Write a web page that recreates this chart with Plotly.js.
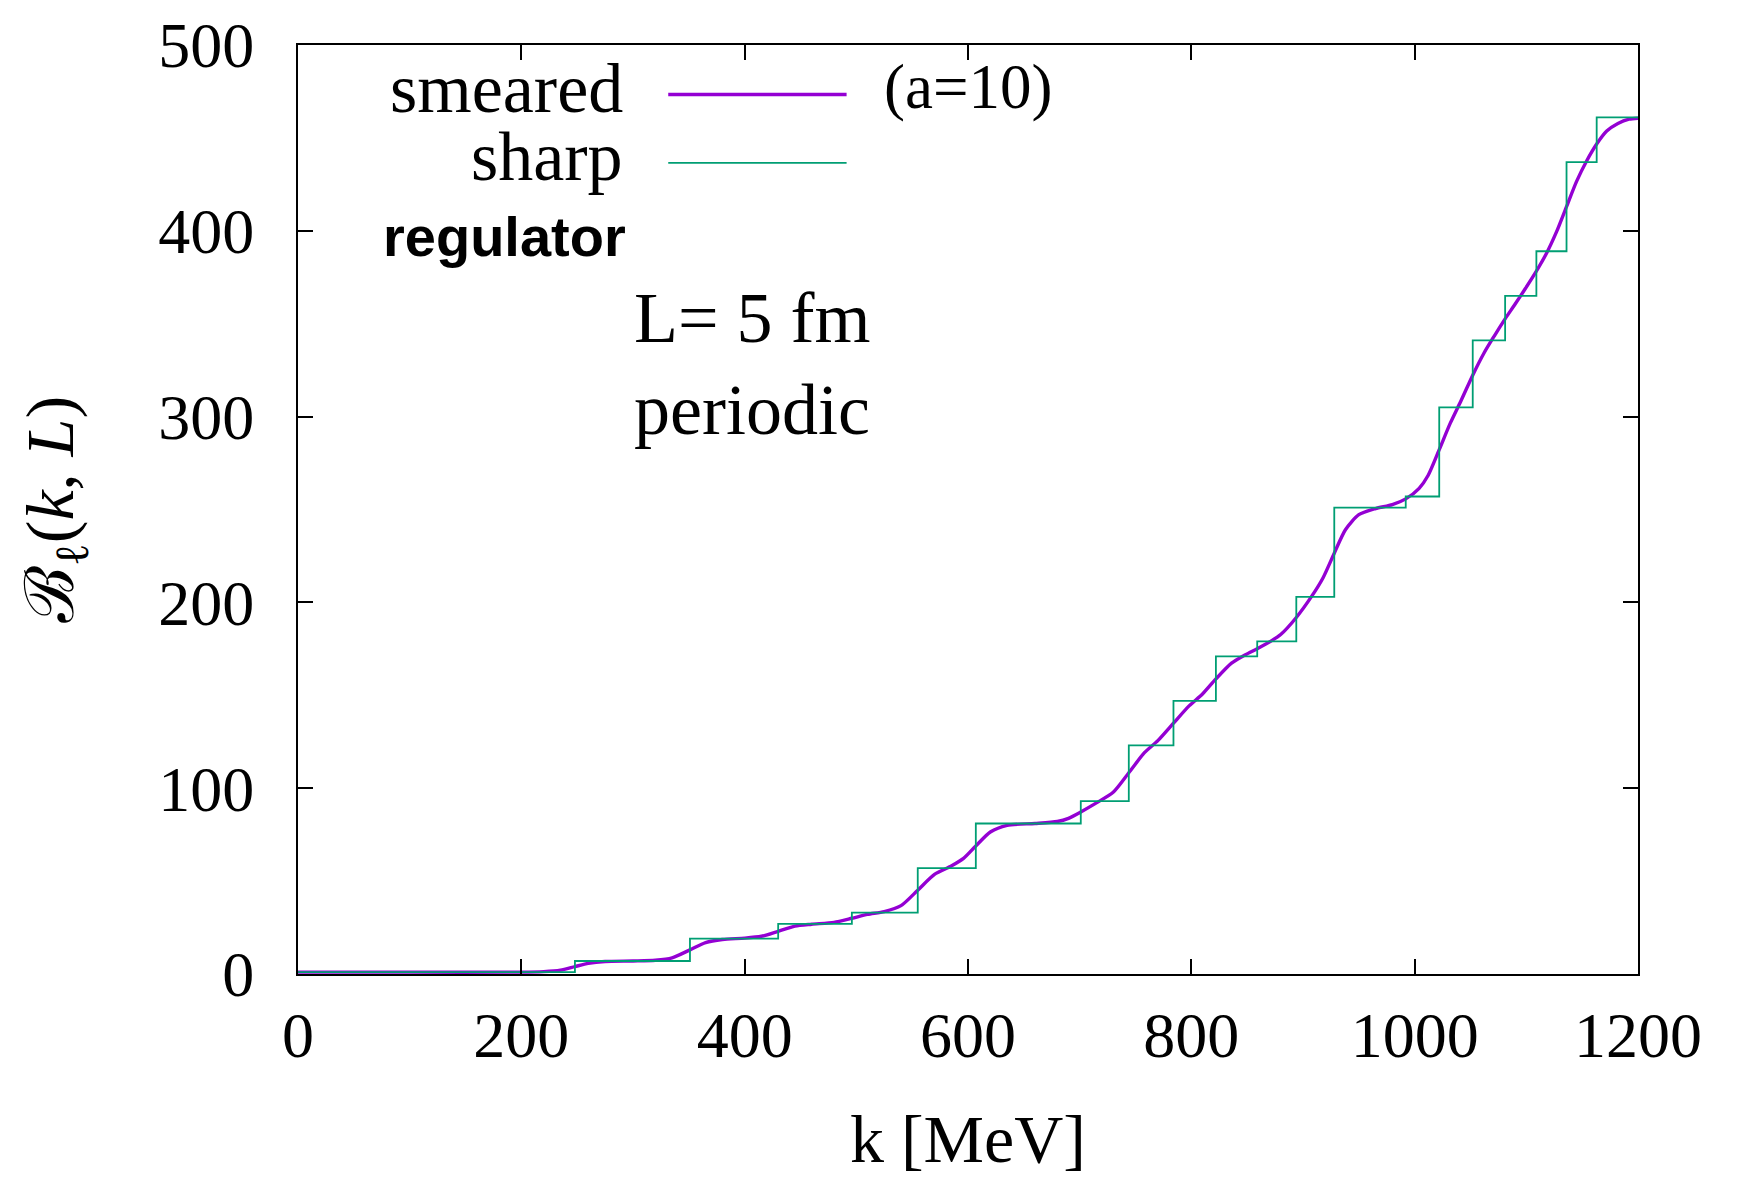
<!DOCTYPE html>
<html>
<head>
<meta charset="utf-8">
<script src="https://cdn.plot.ly/plotly-3.0.1.min.js"></script>
<style>html,body{margin:0;padding:0;background:#fff;}#chart{width:1741px;height:1177px;}</style>
</head>
<body>
<div id="chart"></div>
<script>
// Sharp regulator: step positions k [MeV] and level after each step
const sharpK = [0, 248, 351, 430, 496, 555, 607, 701, 744, 784, 822, 859, 894, 928, 992, 1022, 1052, 1081, 1109, 1136, 1163];
const sharpB = [1, 7, 19, 27, 33, 57, 81, 93, 123, 147, 171, 179, 203, 251, 257, 305, 341, 365, 389, 437, 461];
const sharpEndK = 1200;

// Smeared regulator (a=10): points
const smearK = [0, 100, 200, 220, 235, 248, 260, 275, 300, 320, 335, 351, 365, 380, 400, 415, 430, 445, 460, 480, 496, 510, 525, 540, 555, 570, 585, 596, 607, 620, 635, 660, 680, 690, 701, 715, 730, 744, 758, 770, 784, 798, 810, 822, 836, 848, 859, 872, 880, 894, 908, 918, 928, 938, 950, 965, 980, 992, 1004, 1012, 1022, 1032, 1042, 1052, 1062, 1071, 1081, 1090, 1099, 1109, 1118, 1127, 1136, 1145, 1154, 1163, 1172, 1182, 1192, 1200];
const smearB = [1, 1, 1, 1.3, 2.1, 4, 5.7, 6.7, 7.0, 7.4, 8.7, 13, 16.9, 18.6, 19.3, 20.3, 23, 25.8, 26.8, 27.8, 30.0, 32.1, 33.6, 36.8, 45.1, 53.6, 58.1, 62.2, 68.9, 76.4, 80.0, 81.0, 82.1, 83.8, 87.2, 92.1, 97.8, 108.3, 119.1, 125.6, 135.0, 144.3, 150.7, 158.8, 167.3, 171.7, 175.1, 179.4, 182.7, 191.9, 203.5, 213.3, 226.5, 239.1, 247.2, 250.5, 252.6, 255.7, 261.4, 268.3, 282.2, 296.6, 309.2, 322.3, 334.1, 343.1, 352.6, 360.6, 368.8, 378.3, 387.8, 399.4, 413, 426.6, 437.6, 446.7, 453.7, 457.8, 460.1, 460.6];

const xTicks = [0, 200, 400, 600, 800, 1000, 1200];
const yTicks = [0, 100, 200, 300, 400, 500];

const names = {smeared: 'smeared', sharp: 'sharp', note: '(a=10)', reg: 'regulator', box: 'L= 5 fm', bc: 'periodic'};

const purple = '#9400D3';
const green = '#009E73';
const serif = 'Liberation Serif, Times New Roman, serif';

const traces = [
  {x: smearK, y: smearB, type: 'scatter', mode: 'lines', name: names.smeared,
   line: {color: purple, width: 3.4, shape: 'spline', smoothing: 0.7}, showlegend: false, hoverinfo: 'skip'},
  {x: sharpK.concat([sharpEndK]), y: sharpB.concat([sharpB[sharpB.length - 1]]), type: 'scatter', mode: 'lines', name: names.sharp,
   line: {color: green, width: 1.8, shape: 'hv'}, showlegend: false, hoverinfo: 'skip'}
];

const axisCommon = {
  showline: true, linecolor: '#000', linewidth: 2, mirror: 'ticks',
  ticks: 'inside', ticklen: 15, tickwidth: 2, tickcolor: '#000',
  showgrid: false, zeroline: false,
  tickfont: {family: serif, size: 64, color: '#000'}
};

const layout = {
  width: 1741, height: 1177,
  margin: {l: 298, r: 103, t: 45, b: 203},
  paper_bgcolor: '#fff', plot_bgcolor: '#fff',
  showlegend: false,
  xaxis: Object.assign({}, axisCommon, {
    range: [0, 1200], tickvals: xTicks, ticktext: xTicks.map(String),
    ticklabelstandoff: 4,
    title: {text: 'k [MeV]', font: {family: serif, size: 68, color: '#000'}, standoff: 62}
  }),
  yaxis: Object.assign({}, axisCommon, {
    range: [0, 500], tickvals: yTicks, ticktext: yTicks.map(String),
    ticklabelstandoff: 29,
    title: {text: 'ℬ<sub>ℓ</sub>(<i>k</i>, <i>L</i>)', font: {family: serif, size: 68, color: '#000'}, standoff: 62}
  }),
  shapes: [
    {type: 'line', xref: 'paper', yref: 'paper', x0: 0.2763, x1: 0.4094, y0: 0.9467, y1: 0.9467, line: {color: purple, width: 3.4}},
    {type: 'line', xref: 'paper', yref: 'paper', x0: 0.2763, x1: 0.4094, y0: 0.8731, y1: 0.8731, line: {color: green, width: 1.8}}
  ],
  annotations: [
    {text: names.smeared, xref: 'paper', yref: 'paper', x: 0.2440, y: 0.9535, xanchor: 'right', yanchor: 'middle', showarrow: false, font: {family: serif, size: 70, color: '#000'}},
    {text: names.note, xref: 'paper', yref: 'paper', x: 0.436, y: 0.9551, xanchor: 'left', yanchor: 'middle', showarrow: false, font: {family: serif, size: 63, color: '#000'}},
    {text: names.sharp, xref: 'paper', yref: 'paper', x: 0.2440, y: 0.880, xanchor: 'right', yanchor: 'middle', showarrow: false, font: {family: serif, size: 70, color: '#000'}},
    {text: names.reg, xref: 'paper', yref: 'paper', x: 0.2465, y: 0.794, xanchor: 'right', yanchor: 'middle', showarrow: false, font: {family: 'Liberation Sans, Arial, sans-serif', size: 56, weight: 'bold', color: '#000'}},
    {text: names.box, xref: 'paper', yref: 'paper', x: 0.2490, y: 0.7058, xanchor: 'left', yanchor: 'middle', showarrow: false, font: {family: serif, size: 72, color: '#000'}},
    {text: names.bc, xref: 'paper', yref: 'paper', x: 0.2490, y: 0.6071, xanchor: 'left', yanchor: 'middle', showarrow: false, font: {family: serif, size: 72, color: '#000'}}
  ]
};

Plotly.newPlot('chart', traces, layout, {displayModeBar: false, staticPlot: true});
</script>
</body>
</html>
